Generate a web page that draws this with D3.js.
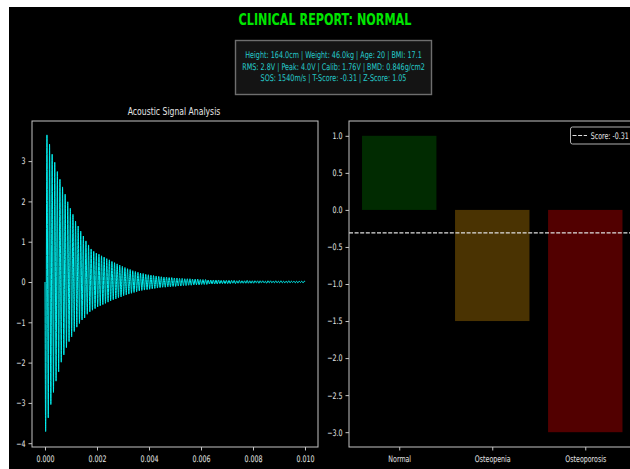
<!DOCTYPE html>
<html>
<head>
<meta charset="utf-8">
<script src="https://cdn.jsdelivr.net/npm/d3@7"></script>
<style>
  body { margin: 0; background: #fff; }
  svg { display: block; }
  text { font-family: "DejaVu Sans", sans-serif; }
</style>
</head>
<body>
<svg id="chart" width="630" height="469"></svg>
<script>
// ---- data -------------------------------------------------------------
const signalFreq = 10000;          // Hz, one trough + one crest per cycle
const signalDuration = 0.01;       // s
// trough (negative) amplitude of each cycle, V
const troughs = [
  -3.71,-3.37,-3.04,-2.74,-2.46,-2.23,-1.99,-1.81,-1.63,-1.48,
  -1.36,-1.23,-1.12,-1.03,-0.94,-0.89,-0.80,-0.74,-0.70,-0.66,
  -0.62,-0.59,-0.56,-0.53,-0.50,-0.47,-0.44,-0.42,-0.39,-0.37,
  -0.34,-0.32,-0.30,-0.28,-0.26,-0.24,-0.22,-0.21,-0.20,-0.19,
  -0.18,-0.17,-0.16,-0.15,-0.14,-0.13,-0.13,-0.12,-0.12,-0.11,
  -0.11,-0.10,-0.10,-0.09,-0.09,-0.08,-0.08,-0.07,-0.07,-0.07,
  -0.06,-0.06,-0.06,-0.05,-0.05,-0.05,-0.05,-0.04,-0.04,-0.04,
  -0.04,-0.04,-0.03,-0.04,-0.03,-0.03,-0.03,-0.03,-0.03,-0.03,
  -0.03,-0.02,-0.03,-0.02,-0.02,-0.03,-0.02,-0.02,-0.02,-0.02,
  -0.02,-0.02,-0.02,-0.02,-0.02,-0.01,-0.02,-0.02,-0.01,-0.02
];
// crest (positive) amplitude of each cycle, V
const crests = [
  3.65,3.42,3.17,2.97,2.74,2.55,2.36,2.18,1.99,1.83,
  1.68,1.51,1.39,1.26,1.14,1.02,0.92,0.82,0.76,0.72,
  0.69,0.65,0.62,0.58,0.55,0.51,0.48,0.45,0.42,0.39,
  0.36,0.33,0.31,0.28,0.26,0.24,0.22,0.21,0.19,0.18,
  0.17,0.16,0.15,0.14,0.13,0.12,0.12,0.11,0.11,0.10,
  0.10,0.09,0.09,0.08,0.08,0.08,0.07,0.07,0.07,0.06,
  0.06,0.06,0.05,0.05,0.05,0.05,0.05,0.04,0.04,0.04,
  0.04,0.04,0.04,0.03,0.04,0.03,0.03,0.04,0.03,0.03,
  0.03,0.03,0.03,0.03,0.02,0.03,0.03,0.02,0.03,0.02,
  0.03,0.02,0.02,0.03,0.02,0.02,0.02,0.02,0.02,0.02
];
const timeTicks = [0, 0.002, 0.004, 0.006, 0.008, 0.010];
const ampTicks = [-4, -3, -2, -1, 0, 1, 2, 3];

const categories = ["Normal", "Osteopenia", "Osteoporosis"];
const categoryBounds = [1.0, -1.5, -3.0];
const categoryColors = ["#012b01", "#4a3302", "#520000"];
const scoreTicks = [1.0, 0.5, 0.0, -0.5, -1.0, -1.5, -2.0, -2.5, -3.0];
const tScore = -0.31;

const reportTitle = "CLINICAL REPORT: NORMAL";
const reportLines = [
  "Height: 164.0cm | Weight: 46.0kg | Age: 20 | BMI: 17.1",
  "RMS: 2.8V | Peak: 4.0V | Calib: 1.76V | BMD: 0.846g/cm2",
  "SOS: 1540m/s | T-Score: -0.31 | Z-Score: 1.05"
];
const signalTitle = "Acoustic Signal Analysis";

// ---- setup ------------------------------------------------------------
const SX = 0.7;   // horizontal text compression of the figure
const svg = d3.select("#chart");
const fg = "#e6e6e6", spine = "#c4c4c4";
const minus = s => s.replace(/^-/, "\u2212");

svg.append("rect").attr("width", 630).attr("height", 469).attr("fill", "#fff");
svg.append("rect").attr("x", 9).attr("y", 7).attr("width", 621).attr("height", 462).attr("fill", "#000");

function label(g, x, y, str, size, color, anchor, weight) {
  return g.append("text")
    .attr("transform", `translate(${x},${y}) scale(${SX},1)`)
    .attr("text-anchor", anchor || "middle")
    .attr("font-size", size)
    .attr("font-weight", weight || "normal")
    .style("fill", color)
    .text(str);
}

// compress axis tick labels horizontally while keeping their anchor point
function squeezeAxis(g, fontSize) {
  g.attr("font-family", null).attr("font-size", null);
  g.selectAll(".tick text").each(function() {
    const t = d3.select(this);
    const x = +t.attr("x") || 0;
    t.attr("x", x / SX).attr("transform", `scale(${SX},1)`)
      .attr("font-size", fontSize).attr("fill", null)
      .style("fill", fg);
  });
  g.selectAll(".tick line").attr("stroke", spine);
  g.select(".domain").remove();
}

// ---- header -----------------------------------------------------------
label(svg, 325, 25, reportTitle, 16, "#00e600", "middle", "bold");
svg.append("rect").attr("x", 235.5).attr("y", 40.5).attr("width", 196).attr("height", 54)
  .attr("fill", "#141414").attr("stroke", "#6e6e6e").attr("stroke-width", 1.4);
reportLines.forEach((s, i) => label(svg, 333.5, 58 + i * 11.6, s, 9.2, "#25cccc"));

// ---- left panel: signal ----------------------------------------------
const L = { x0: 32, x1: 318, y0: 121, y1: 447 };
const xT = d3.scaleLinear().domain([-0.0005, 0.0105]).range([L.x0, L.x1]);
const yA = d3.scaleLinear().domain([-4.094, 3.995]).range([L.y1, L.y0]);

const pts = [[0, 0]];
troughs.forEach((v, k) => {
  pts.push([(k + 0.25) / signalFreq, v]);
  pts.push([(k + 0.75) / signalFreq, crests[k]]);
});
pts.push([signalDuration, 0]);

const left = svg.append("g");
left.append("defs").append("clipPath").attr("id", "clipL")
  .append("rect").attr("x", L.x0).attr("y", L.y0).attr("width", L.x1 - L.x0).attr("height", L.y1 - L.y0);
left.append("path")
  .datum(pts)
  .attr("clip-path", "url(#clipL)")
  .attr("fill", "none")
  .attr("stroke", "#00f2f2")
  .attr("stroke-width", 1)
  .attr("d", d3.line().x(d => xT(d[0])).y(d => yA(d[1])).curve(d3.curveMonotoneX));

const gxL = left.append("g").attr("transform", `translate(0,${L.y1})`)
  .call(d3.axisBottom(xT).tickValues(timeTicks).tickFormat(d3.format(".3f")).tickSize(3.5).tickPadding(5.6));
squeezeAxis(gxL, 9);
const gyL = left.append("g").attr("transform", `translate(${L.x0},0)`)
  .call(d3.axisLeft(yA).tickValues(ampTicks).tickFormat(d => minus(String(d))).tickSize(3.5).tickPadding(3));
squeezeAxis(gyL, 9);
left.append("rect").attr("x", L.x0).attr("y", L.y0).attr("width", L.x1 - L.x0).attr("height", L.y1 - L.y0)
  .attr("fill", "none").attr("stroke", spine).attr("stroke-width", 1);
label(left, (L.x0 + L.x1) / 2 - 1, 115, signalTitle, 11, fg);

// ---- right panel: T-score classification -------------------------------
const R = { x0: 349, x1: 635.5, y0: 121, y1: 447 };
const xC = d3.scaleLinear().domain([-0.54, 2.54]).range([R.x0, R.x1]);
const yS = d3.scaleLinear().domain([-3.2, 1.2]).range([R.y1, R.y0]);
const barW = 0.8;

const right = svg.append("g");
right.selectAll("rect.bar").data(categories).join("rect")
  .attr("class", "bar")
  .attr("x", (d, i) => xC(i - barW / 2))
  .attr("width", (d, i) => xC(i + barW / 2) - xC(i - barW / 2))
  .attr("y", (d, i) => yS(Math.max(0, categoryBounds[i])))
  .attr("height", (d, i) => Math.abs(yS(categoryBounds[i]) - yS(0)))
  .attr("fill", (d, i) => categoryColors[i]);

right.append("line")
  .attr("x1", R.x0).attr("x2", R.x1)
  .attr("y1", yS(tScore)).attr("y2", yS(tScore))
  .attr("stroke", "#e0e0e0").attr("stroke-width", 1.2).attr("stroke-dasharray", "4,1.6");

const gxR = right.append("g").attr("transform", `translate(0,${R.y1})`)
  .call(d3.axisBottom(xC).tickValues([0, 1, 2]).tickFormat(i => categories[i]).tickSize(3.5).tickPadding(5.6));
squeezeAxis(gxR, 9);
const gyR = right.append("g").attr("transform", `translate(${R.x0},0)`)
  .call(d3.axisLeft(yS).tickValues(scoreTicks).tickFormat(d => minus(d3.format(".1f")(d))).tickSize(3.5).tickPadding(3));
squeezeAxis(gyR, 9);
right.append("rect").attr("x", R.x0).attr("y", R.y0).attr("width", R.x1 - R.x0).attr("height", R.y1 - R.y0)
  .attr("fill", "none").attr("stroke", spine).attr("stroke-width", 1);

// legend
const lg = right.append("g");
lg.append("rect").attr("x", 570.5).attr("y", 127).attr("width", 62).attr("height", 17).attr("rx", 2)
  .attr("fill", "#000").attr("stroke", "#b0b0b0").attr("stroke-width", 1);
lg.append("line").attr("x1", 572.5).attr("x2", 587).attr("y1", 135.5).attr("y2", 135.5)
  .attr("stroke", "#e0e0e0").attr("stroke-width", 1.2).attr("stroke-dasharray", "4,1.6");
label(lg, 590.7, 138.8, `Score: ${tScore.toFixed(2)}`, 9, fg, "start");
</script>
</body>
</html>
